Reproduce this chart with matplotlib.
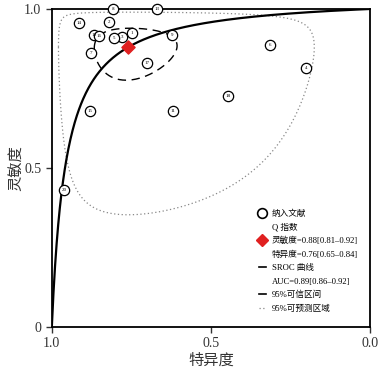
import matplotlib.pyplot as plt
from matplotlib.lines import Line2D
import numpy as np

plt.rcParams['font.family'] = ['Liberation Serif', 'Noto Sans CJK SC']

# study estimates (specificity, sensitivity)
study_ids = ["1", "2", "3", "4", "5", "6", "7", "8", "9", "10",
             "11", "16", "13", "14", "15", "18", "17", "20"]
study_spec = [0.748, 0.821, 0.780, 0.201, 0.805, 0.314, 0.877, 0.808, 0.623, 0.868,
              0.619, 0.852, 0.670, 0.915, 0.881, 0.447, 0.701, 0.962]
study_sens = [0.925, 0.959, 0.912, 0.814, 0.909, 0.887, 0.862, 1.000, 0.918, 0.918,
              0.679, 0.915, 1.000, 0.956, 0.679, 0.726, 0.830, 0.431]

summary_sens = 0.88
summary_spec = 0.76

legend_labels = ["纳入文献", "Q 指数",
                 "灵敏度=0.88[0.81–0.92]", "特异度=0.76[0.65–0.84]",
                 "SROC 曲线", "AUC=0.89[0.86–0.92]",
                 "95%可信区间", "95%可预测区域"]


def logit(p):
    return np.log(p / (1 - p))


def expit(z):
    return 1 / (1 + np.exp(-z))


fig = plt.figure(figsize=(3.84, 3.74), dpi=100)
ax = fig.add_axes([0.135, 0.126, 0.829, 0.85])

# SROC curve (symmetric, through summary point)
D = logit(summary_sens) + logit(summary_spec)
fpr = np.linspace(1e-4, 0.9999, 600)
sroc = expit(D + logit(fpr))
ax.plot(1 - fpr, sroc, color='black', lw=1.6, zorder=3)

# confidence and prediction regions, drawn in logit space
t = np.linspace(0, 2 * np.pi, 400)
cx, cy = logit(summary_spec), logit(summary_sens)
ci_x = expit(cx + 0.72 * np.cos(t))
ci_y = expit(cy + 0.75 * np.cos(t + np.radians(93)))
ax.plot(ci_x, ci_y, color='black', lw=1.0, ls=(0, (6, 4)), zorder=2)

pr_x = expit(cx + 2.7 * np.cos(t))
pr_y = expit(cy + 2.6 * np.cos(t + np.radians(90)))
ax.plot(pr_x, pr_y, color='#888888', lw=0.9, ls=(0, (1, 2)), zorder=2)

# studies
ax.scatter(study_spec, study_sens, s=55, facecolor='white', edgecolor='black',
           lw=0.9, zorder=4, clip_on=False)
for lab, x, y in zip(study_ids, study_spec, study_sens):
    ax.text(x, y, lab, fontsize=3.6, ha='center', va='center', zorder=5, clip_on=False)

ax.scatter([summary_spec], [summary_sens], marker='D', s=45, color='#e02020', zorder=6)

ax.set_xlim(1, 0)
ax.set_ylim(0, 1)
ax.set_xticks([1, 0.5, 0])
ax.set_xticklabels(["1.0", "0.5", "0.0"])
ax.set_yticks([0, 0.5, 1])
ax.set_yticklabels(["0", "0.5", "1.0"])
ax.tick_params(direction='out', length=4, width=1, labelsize=10, colors='#333333')
ax.set_xlabel("特异度", fontsize=11, color='#333333', labelpad=2)
ax.set_ylabel("灵敏度", fontsize=11, color='#333333', labelpad=0)
for s in ax.spines.values():
    s.set_linewidth(1.3)

blank = Line2D([], [], color='none')
handles = [Line2D([], [], marker='o', ls='none', mfc='white', mec='black', ms=7, mew=1.2),
           blank,
           Line2D([], [], marker='D', ls='none', color='#e02020', ms=6),
           blank,
           Line2D([], [], color='black', lw=1.2),
           blank,
           Line2D([], [], color='black', lw=1.2),
           Line2D([], [], color='#888888', lw=0.9, ls=(0, (1, 2)))]
ax.legend(handles, legend_labels, loc='lower right', frameon=False, fontsize=6.2,
          handlelength=0.9, handletextpad=0.6, labelspacing=0.62,
          borderaxespad=0.5, bbox_to_anchor=(0.985, 0.02))

fig.savefig("out.png", dpi=100)
